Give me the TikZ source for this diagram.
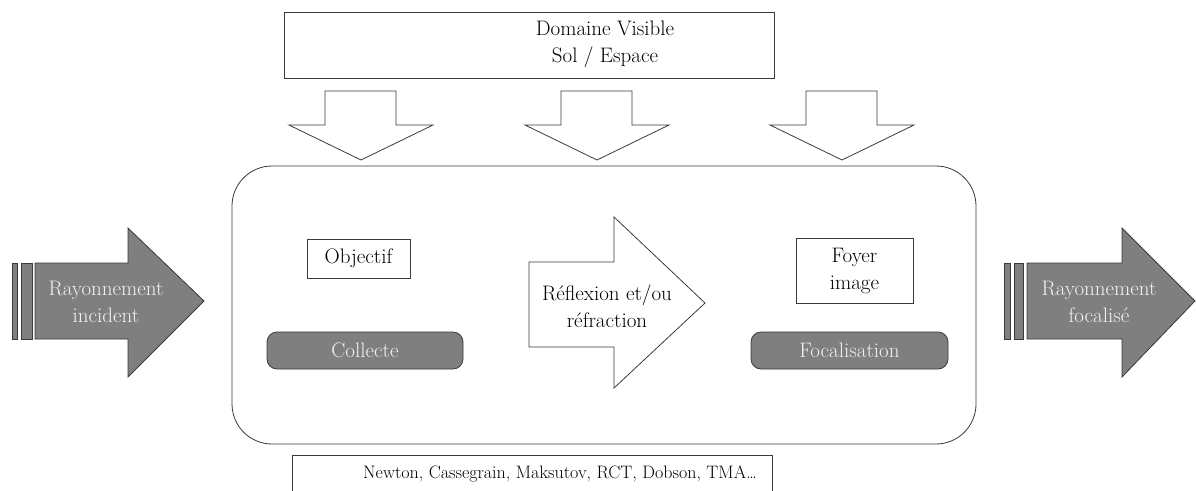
\documentclass[tikz,border=0pt]{standalone}
\usetikzlibrary{positioning}
\definecolor{grisfleche}{HTML}{7F7F7F}
\definecolor{grisbord}{HTML}{3A3A3A}
\definecolor{textepale}{HTML}{F2F2EC}
\tikzset{
    texte/.style={font=\fontsize{21}{27}\selectfont, align=center, inner sep=0pt},
    boite/.style={draw=grisbord, thick},
    pastille/.style={draw=grisbord, thick, fill=grisfleche, rounded corners=10pt, text=textepale, font=\fontsize{21}{27}\selectfont},
    fleche/.style={draw=grisbord, thick, fill=grisfleche}
}
\begin{document}
\begin{tikzpicture}[x=1pt,y=-1pt]
    \useasboundingbox (0,0) rectangle (1196,490);
    \clip (0,0) rectangle (1196,490);
    \draw[boite] (284,12) rectangle (774,78);
    \node[texte] (domaine) at (605,44) {Domaine Visible\\Sol / Espace};
    \foreach \cx in {361,597,842}
        \draw[boite] (\cx-36,91) -- (\cx+35,91) -- (\cx+35,125) -- (\cx+72,125) -- (\cx,160) -- (\cx-72,125) -- (\cx-36,125) -- cycle;
    \node[boite, rounded corners=40pt, minimum width=744pt, minimum height=278pt] (telescope) at (604,305) {};
    \draw[fleche] (12,263) rectangle (17,339);
    \draw[fleche] (21,263) rectangle (32,339);
    \draw[fleche] (35,263) -- (128,263) -- (128,228) -- (204,301) -- (128,377) -- (128,339) -- (35,339) -- cycle;
    \node[texte, text=textepale] (incident) at (106,302) {Rayonnement\\incident};
    \draw[fleche] (1004,263) rectangle (1010,339);
    \draw[fleche] (1014,263) rectangle (1023,339);
    \draw[fleche] (1027,263) -- (1122,263) -- (1122,228) -- (1195,301) -- (1122,377) -- (1122,339) -- (1027,339) -- cycle;
    \node[texte, text=textepale] (focalise) at (1099,302) {Rayonnement\\focalis\'e};
    \draw[boite] (529,262) -- (614,262) -- (614,217) -- (705,303) -- (614,388) -- (614,347) -- (529,347) -- cycle;
    \node[texte] (reflexion) at (607,306) {R\'eflexion et/ou\\r\'efraction};
    \node[boite, texte, minimum width=103pt, minimum height=39pt] (objectif) at (358.5,258.5) {Objectif};
    \node[boite, texte, minimum width=117pt, minimum height=65pt] (foyer) at (854.5,270.5) {Foyer\\image};
    \node[pastille, minimum width=196pt, minimum height=37pt] (collecte) at (365,350.5) {Collecte};
    \node[pastille, minimum width=197pt, minimum height=37pt] (focalisation) at (849.5,350.5) {Focalisation};
    \draw[boite] (292,455) rectangle (772,500);
    \node[texte, font=\fontsize{18}{24}\selectfont] (modeles) at (560,474) {Newton, Cassegrain, Maksutov, RCT, Dobson, TMA\ldots};
\end{tikzpicture}
\end{document}
